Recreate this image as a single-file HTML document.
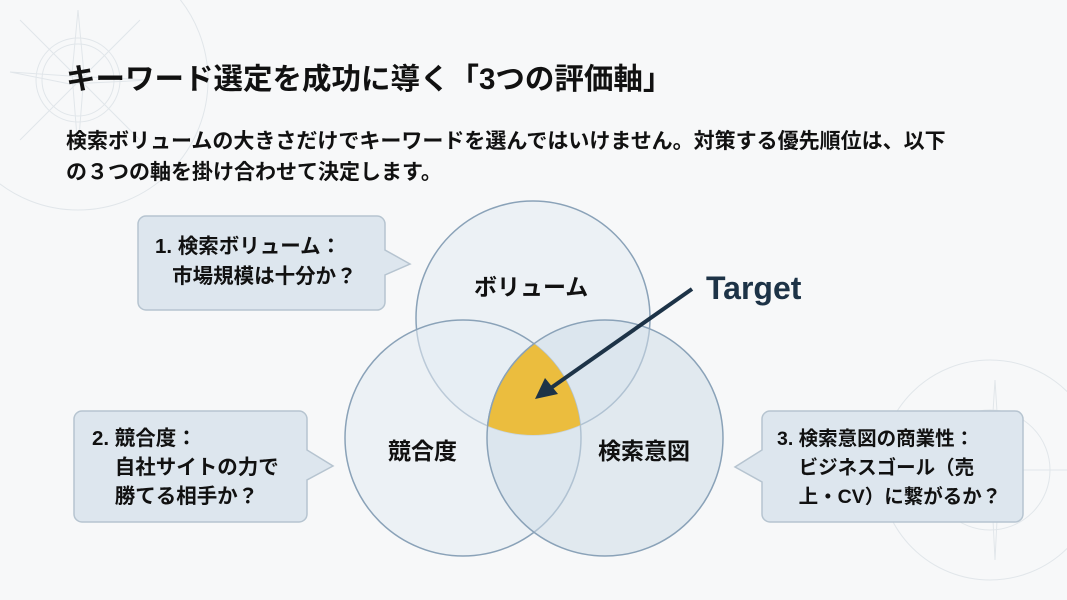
<!DOCTYPE html>
<html><head><meta charset="utf-8"><style>
html,body{margin:0;padding:0}
body{width:1067px;height:600px;position:relative;overflow:hidden;background:#f7f8f9;font-family:"Liberation Sans","Noto Sans CJK JP",sans-serif;color:#111;font-weight:bold}
.t{position:absolute;white-space:nowrap}
</style></head><body>
<svg width="1067" height="600" style="position:absolute;left:0;top:0">
<g stroke="#e1e6ea" fill="none" stroke-width="1">
<circle cx="78" cy="80" r="42"/><circle cx="78" cy="80" r="36"/><circle cx="78" cy="80" r="130"/>
<path d="M78 10 L84 74 L78 150 L72 74Z M10 72 L70 76 L150 80 L70 84Z"/>
<path d="M20 20 L140 140 M140 20 L20 140"/>
<circle cx="990" cy="470" r="60"/><circle cx="990" cy="470" r="110"/>
<path d="M995 380 L1000 460 L995 560 L990 460Z M880 470 L1067 470"/>
</g>
<g stroke="#8aa2b8" stroke-width="1.5">
<circle cx="533" cy="318" r="117" fill="#e4ebf2" fill-opacity="0.55"/>
<circle cx="463" cy="438" r="118" fill="#e4ebf2" fill-opacity="0.55"/>
<circle cx="605" cy="438" r="118" fill="#cfdce8" fill-opacity="0.55"/>
</g>
<clipPath id="a"><circle cx="533" cy="318" r="117"/></clipPath>
<clipPath id="b"><circle cx="463" cy="438" r="118"/></clipPath>
<g clip-path="url(#a)"><circle cx="605" cy="438" r="118" fill="#ebbd3e" clip-path="url(#b)" stroke="#8aa2b8" stroke-width="1.5"/></g>
<line x1="692" y1="289" x2="548" y2="390" stroke="#1d3347" stroke-width="4"/>
<polygon points="535,399 545,378 558,394" fill="#1d3347"/>
<g fill="#dde6ee" stroke="#b6c4d0" stroke-width="1.5">
<path d="M146 216 H377 a8 8 0 0 1 8 8 V250 L410 264 L385 275 V302 a8 8 0 0 1 -8 8 H146 a8 8 0 0 1 -8 -8 V224 a8 8 0 0 1 8 -8Z"/>
<path d="M82 411 H299 a8 8 0 0 1 8 8 V450 L333 466 L307 480 V514 a8 8 0 0 1 -8 8 H82 a8 8 0 0 1 -8 -8 V419 a8 8 0 0 1 8 -8Z"/>
<path d="M770 411 H1015 a8 8 0 0 1 8 8 V514 a8 8 0 0 1 -8 8 H770 a8 8 0 0 1 -8 -8 V482 L735 467 L762 450 V419 a8 8 0 0 1 8 -8Z"/>
</g>
</svg>
<div class="t" style="left:66px;top:56px;font-size:29.5px">キーワード選定を成功に導く「3つの評価軸」</div>
<div class="t" style="left:66px;top:126px;font-size:21px;line-height:31px">検索ボリュームの大きさだけでキーワードを選んではいけません。対策する優先順位は、以下<br>の３つの軸を掛け合わせて決定します。</div>
<div class="t" style="left:155px;top:232px;font-size:20.5px;line-height:30px">1. 検索ボリューム：<br>&nbsp;&nbsp;&nbsp;市場規模は十分か？</div>
<div class="t" style="left:92px;top:424px;font-size:20.5px;line-height:29px">2. 競合度：<br>&nbsp;&nbsp;&nbsp;&nbsp;自社サイトの力で<br>&nbsp;&nbsp;&nbsp;&nbsp;勝てる相手か？</div>
<div class="t" style="left:777px;top:425px;font-size:19.5px;line-height:29px">3. 検索意図の商業性：<br>&nbsp;&nbsp;&nbsp;&nbsp;ビジネスゴール（売<br>&nbsp;&nbsp;&nbsp;&nbsp;上・CV）に繋がるか？</div>
<div class="t" style="left:474px;top:268px;font-size:23px">ボリューム</div>
<div class="t" style="left:388px;top:432px;font-size:23px">競合度</div>
<div class="t" style="left:598px;top:432px;font-size:23px">検索意図</div>
<div class="t" style="left:706px;top:270px;font-size:32px;color:#1d3347">Target</div>
</body></html>
